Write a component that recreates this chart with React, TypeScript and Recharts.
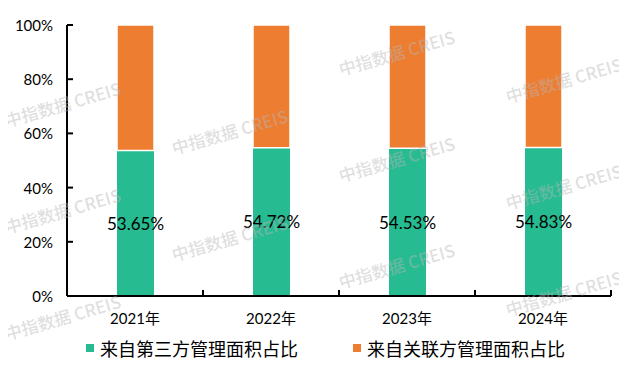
import React from 'react';
import { BarChart, Bar, XAxis, YAxis, Legend, LabelList } from 'recharts';

const categories = ['2021年', '2022年', '2023年', '2024年'];
const thirdPartyShare = [53.65, 54.72, 54.53, 54.83];
const relatedShare = [46.35, 45.28, 45.47, 45.17];
const yTicks = [0, 20, 40, 60, 80, 100];
const seriesNames = ['来自第三方管理面积占比', '来自关联方管理面积占比'];
const colors = ['#26BB91', '#ED7D31'];
const watermarkText = '中指数据 CREIS';

const data = categories.map((c, i) => ({
  year: c,
  third: thirdPartyShare[i],
  related: relatedShare[i],
}));

const FONT = "Lato, 'Noto Sans CJK SC', sans-serif";
const CJK = "'Noto Sans CJK SC', Lato, sans-serif";

const W = 619;
const H = 360;
const MARGIN = { top: 17, right: 16, left: 0, bottom: 2 };
const Y_W = 59;
const BAND = (W - MARGIN.left - MARGIN.right - Y_W) / categories.length;

const XTick = (props: any) => {
  const { x, y, payload } = props;
  return (
    <g>
      <text x={x} y={y + 22} textAnchor="middle" dominantBaseline="central" fontSize={15} fontFamily={FONT} fill="#000">
        {payload.value}
      </text>
      <line x1={x + BAND / 2} x2={x + BAND / 2} y1={y} y2={y - 6} stroke="#000" strokeWidth={2} />
    </g>
  );
};

const YTick = (props: any) => {
  const { x, y, payload } = props;
  return (
    <g>
      <text x={x - 14} y={y} textAnchor="end" dominantBaseline="central" fontSize={15} fontFamily={FONT} fill="#000">
        {`${payload.value}%`}
      </text>
      <line x1={x} x2={x + 6} y1={y} y2={y} stroke="#000" strokeWidth={2} />
    </g>
  );
};

const LegendContent = () => (
  <div style={{ height: 36, width: W, display: 'flex', alignItems: 'center', paddingLeft: 78, boxSizing: 'border-box', fontFamily: CJK, fontSize: 18, color: '#000', whiteSpace: 'nowrap' }}>
    {seriesNames.map((n, i) => (
      <div key={n} style={{ display: 'flex', alignItems: 'center', marginRight: 55, flexShrink: 0 }}>
        <span style={{ width: 8, height: 8, background: colors[i], display: 'inline-block', marginRight: 6 }} />
        <span style={{ lineHeight: '20px' }}>{n}</span>
      </div>
    ))}
  </div>
);

const Watermarks = () => {
  const items: React.ReactNode[] = [];
  for (let k = 0; k < 4; k++) {
    for (let j = -1; j < 4; j++) {
      const x = k * 167 + 7;
      const y = 21 + 27.5 * k + 106.5 * j;
      if (y - 50 < 0 || y + 4 > 368) continue;
      items.push(
        <text
          key={`${k}-${j}`}
          x={x}
          y={y}
          transform={`rotate(-16 ${x} ${y})`}
          fontSize={17}
          fontWeight={500}
          fontFamily={CJK}
          fill="#b8b8b8"
          fillOpacity={0.45}
        >
          {watermarkText}
        </text>
      );
    }
  }
  return (
    <svg width={627} height={368} style={{ position: 'absolute', left: -8, top: -8, pointerEvents: 'none' }}>
      {items}
    </svg>
  );
};

export default function App() {
  return (
    <div style={{ position: 'relative', width: W, height: H }}>
      <BarChart width={W} height={H} data={data} margin={MARGIN}>
        <XAxis
          dataKey="year"
          height={34}
          tickLine={false}
          tickSize={0}
          tickMargin={0}
          axisLine={{ stroke: '#000', strokeWidth: 2 }}
          tick={<XTick />}
          interval={0}
        />
        <YAxis
          width={Y_W}
          domain={[0, 100]}
          ticks={yTicks}
          tickLine={false}
          tickSize={0}
          tickMargin={0}
          axisLine={{ stroke: '#000', strokeWidth: 2 }}
          tick={<YTick />}
          interval={0}
        />
        <Legend verticalAlign="bottom" height={36} content={() => <LegendContent />} />
        <Bar dataKey="third" name={seriesNames[0]} stackId="a" fill={colors[0]} barSize={37} isAnimationActive={false}>
          <LabelList
            dataKey="third"
            content={(p: any) => (
              <text
                x={p.x + p.width / 2}
                y={p.y + p.height / 2}
                textAnchor="middle"
                dominantBaseline="central"
                fontSize={17}
                fontFamily={FONT}
                fill="#000"
              >
                {`${Number(p.value).toFixed(2)}%`}
              </text>
            )}
          />
        </Bar>
        <Bar dataKey="related" name={seriesNames[1]} stackId="a" fill={colors[1]} stroke="#fff" strokeWidth={1.5} barSize={37} isAnimationActive={false} />
      </BarChart>
      <Watermarks />
    </div>
  );
}
